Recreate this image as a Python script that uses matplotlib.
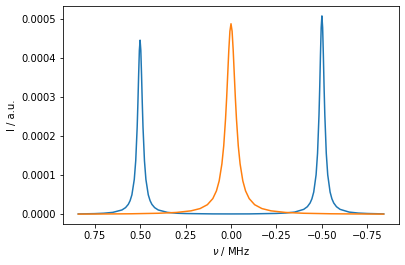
from matplotlib import pyplot as plt

# frequency offsets (MHz) and intensities
blue_nu = [0.84, 0.75, 0.7, 0.65, 0.6, 0.58, 0.565, 0.555, 0.545, 0.532, 0.524, 0.516, 0.512, 0.508, 0.504,
           0.5, 0.496, 0.492, 0.488, 0.484, 0.476, 0.468, 0.455, 0.445, 0.435, 0.42, 0.4, 0.35, 0.3, 0.25,
           0.1, 0.0, -0.1, -0.25, -0.3, -0.35, -0.4, -0.42, -0.435, -0.445, -0.455, -0.468, -0.476, -0.484,
           -0.488, -0.492, -0.496, -0.5, -0.504, -0.508, -0.512, -0.516, -0.524, -0.532, -0.545, -0.555,
           -0.565, -0.58, -0.6, -0.65, -0.7, -0.75, -0.84]
blue_I = [0.0000010, 0.0000018, 0.0000028, 0.0000050, 0.0000111, 0.0000171, 0.0000254, 0.0000348, 0.0000499,
          0.0000890, 0.000137, 0.000223, 0.000285, 0.000356, 0.000419,
          0.000445, 0.000419, 0.000356, 0.000285, 0.000223, 0.000137, 0.0000890, 0.0000499, 0.0000348,
          0.0000254, 0.0000171, 0.0000111, 0.0000050, 0.0000028, 0.0000020,
          0.0000011, 0.0000010, 0.0000011, 0.0000023, 0.0000034, 0.0000057, 0.0000127, 0.0000195,
          0.0000290, 0.0000396, 0.0000569, 0.000101, 0.000156, 0.000254,
          0.000324, 0.000406, 0.000477, 0.000507, 0.000477, 0.000406, 0.000324, 0.000254, 0.000156,
          0.000101, 0.0000569, 0.0000396,
          0.0000290, 0.0000195, 0.0000127, 0.0000057, 0.0000032, 0.0000021, 0.0000011]

orange_nu = [0.84, 0.7, 0.55, 0.4, 0.3, 0.22, 0.17, 0.13, 0.1, 0.08, 0.065, 0.05, 0.04, 0.03, 0.024, 0.018,
             0.012, 0.006, 0.0, -0.006, -0.012, -0.018, -0.024, -0.03, -0.04, -0.05, -0.065, -0.08, -0.1,
             -0.13, -0.17, -0.22, -0.3, -0.4, -0.55, -0.7, -0.84]
orange_I = [0.0000006, 0.0000009, 0.0000014, 0.0000027, 0.0000048, 0.0000089, 0.0000147, 0.0000246,
            0.0000402, 0.0000600, 0.0000855, 0.000129, 0.000175, 0.000244, 0.000297, 0.000358,
            0.000420, 0.000468, 0.000487, 0.000468, 0.000420, 0.000358, 0.000297, 0.000244, 0.000175,
            0.000129, 0.0000855, 0.0000600, 0.0000402,
            0.0000246, 0.0000147, 0.0000089, 0.0000048, 0.0000027, 0.0000014, 0.0000009, 0.0000006]

if __name__ == "__main__":
    fig = plt.figure(figsize=(405 / 72, 265 / 72), dpi=72)
    ax = fig.add_axes([63 / 405, 1 - 224 / 265, 336 / 405, 218 / 265])

    ax.plot(blue_nu, blue_I)
    ax.plot(orange_nu, orange_I)
    ax.invert_xaxis()

    ax.set_xlabel(r"$\nu$ / MHz")
    ax.set_ylabel("I / a.u.")

    fig.savefig("out.png", dpi=72)
